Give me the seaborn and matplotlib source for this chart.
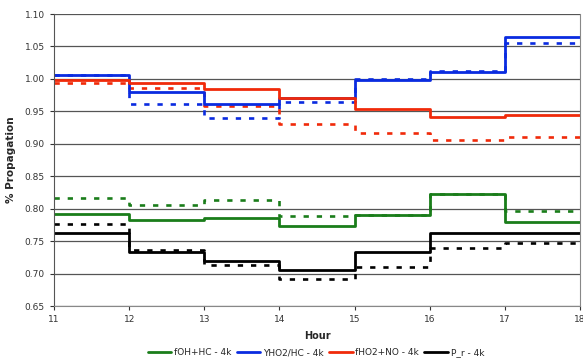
import numpy as np
import pandas as pd
import seaborn as sns
from matplotlib import pyplot as plt

hours = [11, 12, 13, 14, 15, 16, 17, 18]

# solid series (value at 18 repeats the last step)
foh_hc = [0.792, 0.782, 0.785, 0.773, 0.791, 0.822, 0.780, 0.780]
yho2_hc = [1.006, 0.980, 0.961, 0.971, 0.998, 1.011, 1.065, 1.065]
fho2_no = [0.998, 0.994, 0.984, 0.970, 0.953, 0.942, 0.945, 0.945]
p_r = [0.762, 0.734, 0.720, 0.706, 0.734, 0.763, 0.763, 0.763]

# dashed series
foh_hc_d = [0.817, 0.806, 0.814, 0.789, 0.791, 0.822, 0.796, 0.796]
yho2_hc_d = [1.006, 0.961, 0.940, 0.965, 1.000, 1.012, 1.055, 1.055]
fho2_no_d = [0.994, 0.986, 0.958, 0.930, 0.917, 0.906, 0.911, 0.911]
p_r_d = [0.777, 0.736, 0.713, 0.692, 0.711, 0.739, 0.747, 0.747]

labels = ['fOH+HC - 4k', 'YHO2/HC - 4k', 'fHO2+NO - 4k', 'P_r - 4k']
colors = ['#1a7d1a', '#0a2be0', '#f02a0a', '#000000']

df = pd.DataFrame({'Hour': hours})
solid = [foh_hc, yho2_hc, fho2_no, p_r]
dashed = [foh_hc_d, yho2_hc_d, fho2_no_d, p_r_d]

sns.set_style('white')
fig = plt.figure(figsize=(5.83, 3.64), dpi=100)
ax = fig.add_axes([0.0926, 0.159, 0.9024, 0.8025])

for vals, col in zip(dashed, colors):
    df['v'] = vals
    sns.lineplot(data=df, x='Hour', y='v', ax=ax, color=col, lw=1.9,
                 drawstyle='steps-post', linestyle=(0, (2, 3)), legend=False)
for vals, col, lab in zip(solid, colors, labels):
    df['v'] = vals
    sns.lineplot(data=df, x='Hour', y='v', ax=ax, color=col, lw=2.0,
                 drawstyle='steps-post', label=lab)

ax.set_xlim(11, 18)
ax.set_ylim(0.65, 1.10)
ax.set_xticks(range(11, 19))
ax.set_yticks(np.arange(0.65, 1.101, 0.05))
ax.yaxis.set_major_formatter(plt.FormatStrFormatter('%.2f'))
ax.grid(axis='y', color='#555555', lw=0.9)
ax.set_axisbelow(True)
ax.tick_params(axis='both', labelsize=6.5, colors='#333333', length=3, direction='out')
ax.tick_params(axis='y', left=True)
ax.tick_params(axis='x', bottom=True)
for s in ['left', 'bottom', 'right']:
    ax.spines[s].set_color('#888888')
ax.spines['left'].set_color('#555555')
ax.spines['top'].set_visible(False)

ax.set_xlabel('Hour', fontsize=7, fontweight='bold', labelpad=5)
ax.set_ylabel('% Propagation', fontsize=7.5, fontweight='bold', labelpad=6)

ax.legend(loc='center', bbox_to_anchor=(0.498, -0.16), ncol=4, frameon=False,
          fontsize=6.5, handlelength=2.6, handletextpad=0.3, columnspacing=0.6)

plt.savefig('out.png', dpi=100)
